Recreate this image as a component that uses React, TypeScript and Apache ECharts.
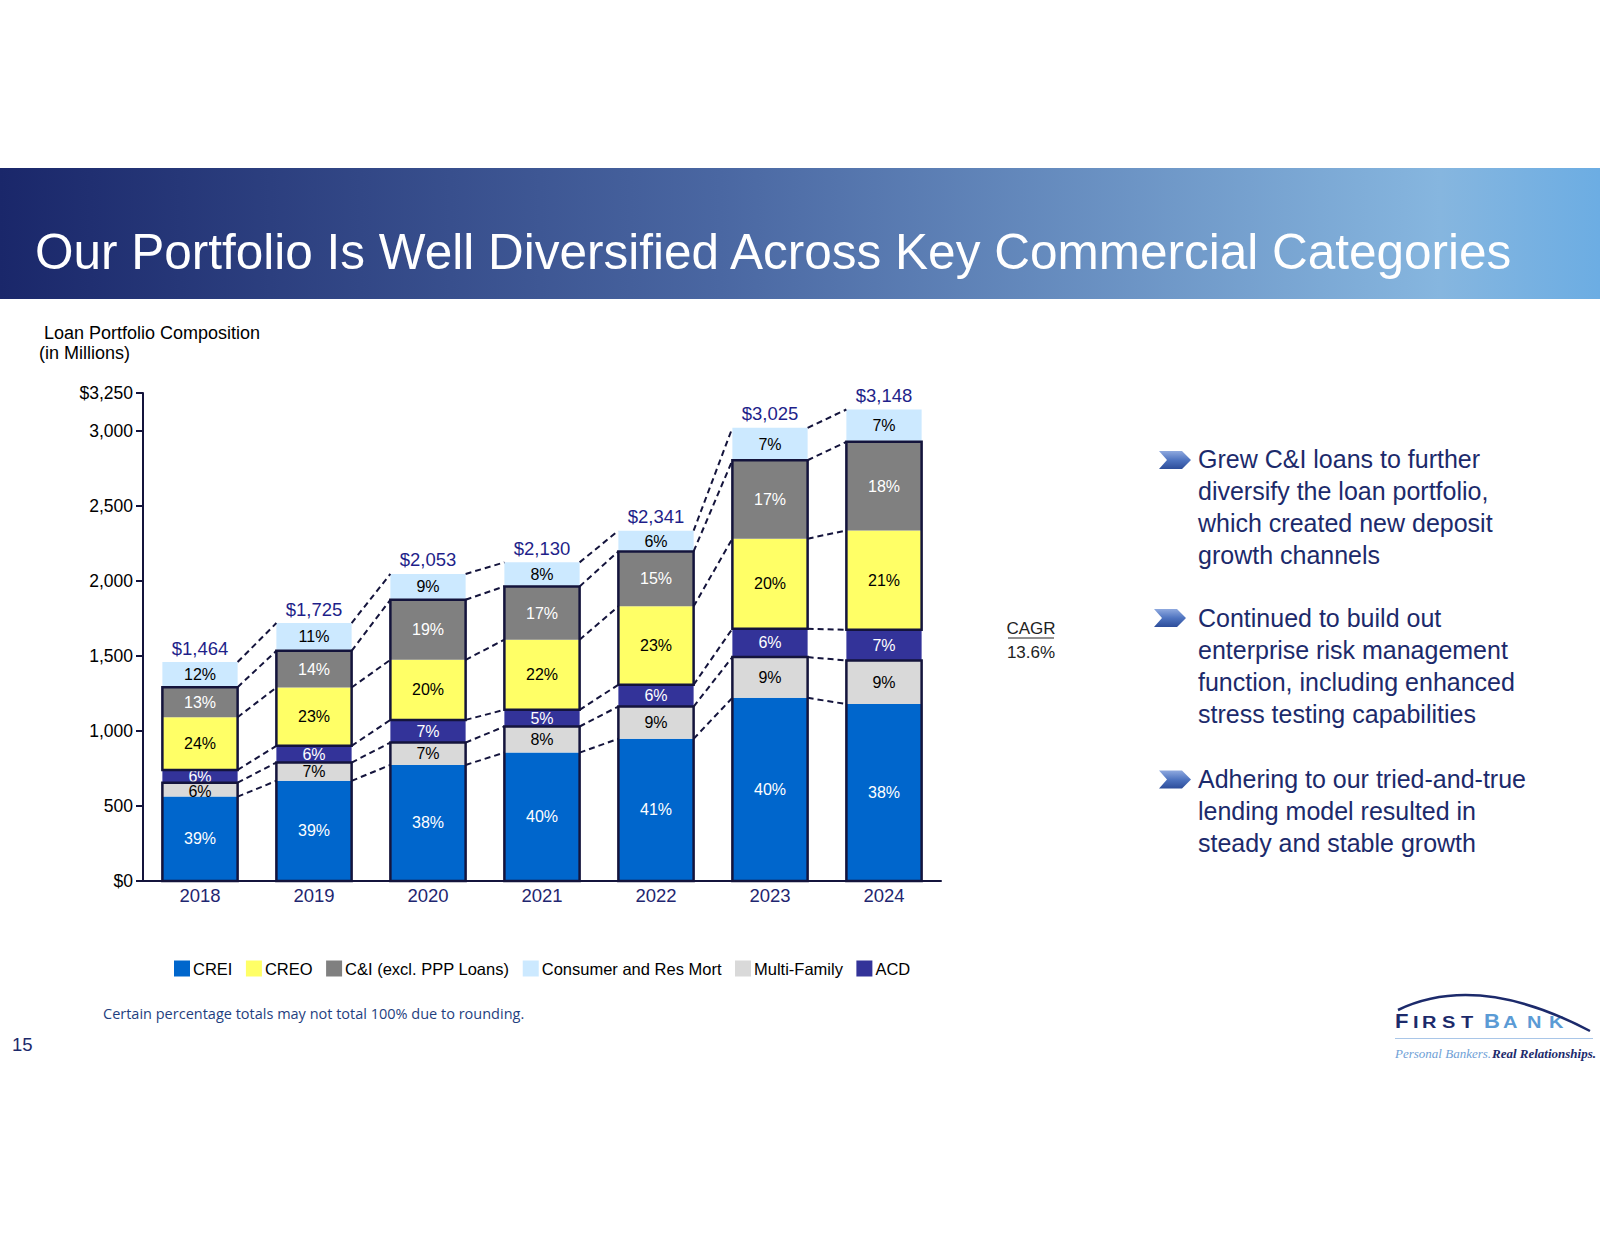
import React, { useEffect, useRef } from "react";
import * as echarts from "echarts";

// ---------- data ----------
const years = ["2018", "2019", "2020", "2021", "2022", "2023", "2024"];
const totals = [1464, 1725, 2053, 2130, 2341, 3025, 3148];

// segment values ($M)
const creiVals = [562, 667, 773, 855, 947, 1220, 1178];
const mfVals = [93, 122, 149, 174, 215, 271, 291];
const acdVals = [85, 111, 151, 111, 145, 189, 204];
const creoVals = [351, 389, 400, 467, 522, 600, 662];
const ciVals = [200, 244, 400, 355, 366, 522, 590];
const consVals = [167, 185, 172, 160, 138, 216, 215];

// printed percentages
const creiPct = [39, 39, 38, 40, 41, 40, 38];
const mfPct = [6, 7, 7, 8, 9, 9, 9];
const acdPct = [6, 6, 7, 5, 6, 6, 7];
const creoPct = [24, 23, 20, 22, 23, 20, 21];
const ciPct = [13, 14, 19, 17, 15, 17, 18];
const consPct = [12, 11, 9, 8, 6, 7, 7];

const yMax = 3250;
const yInterval = 500;

const legendOrder = ["CREI", "CREO", "C&I (excl. PPP Loans)", "Consumer and Res Mort", "Multi-Family", "ACD"];

const bullets = [
  "Grew C&I loans to further\ndiversify the loan portfolio,\nwhich created new deposit\ngrowth channels",
  "Continued to build out\nenterprise risk management\nfunction, including enhanced\nstress testing capabilities",
  "Adhering to our tried-and-true\nlending model resulted in\nsteady and stable growth",
];

const NAVY = "#14143c";
const FONT = "Liberation Sans, Arial, sans-serif";

export default function App() {
  const ref = useRef<HTMLDivElement>(null);

  useEffect(() => {
    const chart = echarts.init(ref.current!, null, { renderer: "svg" });

    const stackOrder = [creiVals, mfVals, acdVals, creoVals, ciVals, consVals];
    const cum: number[][] = [];
    let run = years.map(() => 0);
    stackOrder.forEach((arr) => {
      run = run.map((v, i) => v + arr[i]);
      cum.push(run.slice());
    });

    const BW = 0.66;

    const outlineData: number[][] = [];
    years.forEach((_, i) => {
      outlineData.push([i, 0, cum[1][i]]);
      outlineData.push([i, cum[2][i], cum[4][i]]);
    });

    const connData: number[][] = [];
    for (let i = 0; i < years.length - 1; i++) {
      for (let k = 0; k < cum.length; k++) {
        connData.push([i, cum[k][i], cum[k][i + 1]]);
      }
    }

    const totalData = years.map((_, i) => [i, cum[5][i], totals[i]]);

    const mkBar = (
      name: string,
      vals: number[],
      pct: number[],
      color: string,
      labelColor: string,
      z: number,
      nudge: Record<number, number> = {}
    ) => ({
      type: "bar",
      name,
      stack: "loans",
      data: vals.map((v, i) =>
        nudge[i] !== undefined ? { value: v, label: { offset: [0, nudge[i]] } } : v
      ),
      barWidth: "66%",
      itemStyle: { color },
      label: {
        show: true,
        position: "inside",
        color: labelColor,
        fontSize: 16,
        fontFamily: FONT,
        formatter: (p: any) => pct[p.dataIndex] + "%",
      },
      z,
    });

    const chevron = (x: number, yc: number) => ({
      type: "polygon",
      shape: {
        points: [
          [x, yc - 9],
          [x + 23, yc - 9],
          [x + 32, yc],
          [x + 23, yc + 9],
          [x, yc + 9],
          [x + 8, yc],
        ],
      },
      style: {
        fill: new echarts.graphic.LinearGradient(0, 0, 0, 1, [
          { offset: 0, color: "#8fa9df" },
          { offset: 0.5, color: "#4f74c0" },
          { offset: 1, color: "#2d4d9a" },
        ]),
      },
    });

    const bulletText = (x: number, top: number, text: string) => ({
      type: "text",
      x,
      y: top,
      style: {
        text,
        font: `25px ${FONT}`,
        fill: "#1c2a6b",
        lineHeight: 32,
        verticalAlign: "top",
        align: "left",
      },
    });

    const logoLetters = [
      { ch: "F", x: 1395, big: true, c: "#1c2a6b" },
      { ch: "I", x: 1413, big: false, c: "#1c2a6b" },
      { ch: "R", x: 1422, big: false, c: "#1c2a6b" },
      { ch: "S", x: 1442, big: false, c: "#1c2a6b" },
      { ch: "T", x: 1461, big: false, c: "#1c2a6b" },
      { ch: "B", x: 1484, big: true, c: "#5b9bd5" },
      { ch: "A", x: 1503, big: false, c: "#5b9bd5" },
      { ch: "N", x: 1527, big: false, c: "#5b9bd5" },
      { ch: "K", x: 1549, big: false, c: "#5b9bd5" },
    ];

    const option: any = {
      animation: false,
      backgroundColor: "#ffffff",
      grid: { left: 143, top: 393, width: 798, height: 488, containLabel: false },
      xAxis: {
        type: "category",
        data: years,
        axisLine: { show: true, lineStyle: { color: NAVY, width: 2 } },
        axisTick: { show: false },
        axisLabel: { color: "#1f2670", fontSize: 18.5, fontFamily: FONT, margin: 5 },
      },
      yAxis: {
        type: "value",
        min: 0,
        max: yMax,
        interval: yInterval,
        axisLine: { show: true, lineStyle: { color: NAVY, width: 2 } },
        axisTick: { show: true, length: 7, lineStyle: { color: NAVY, width: 2 } },
        splitLine: { show: false },
        axisLabel: {
          color: "#000",
          fontSize: 17.5,
          fontFamily: FONT,
          margin: 10,
          showMaxLabel: true,
          showMinLabel: true,
          formatter: (v: number) =>
            v === 0 || v === yMax ? "$" + v.toLocaleString("en-US") : v.toLocaleString("en-US"),
        },
      },
      legend: {
        data: legendOrder,
        left: 169,
        top: 955,
        icon: "rect",
        itemWidth: 16,
        itemHeight: 16,
        itemGap: 13.5,
        textStyle: { color: "#000", fontSize: 16.5, fontFamily: FONT, padding: [0, 0, 0, -2] },
      },
      series: [
        mkBar("CREI", creiVals, creiPct, "#0066cc", "#ffffff", 2),
        mkBar("Multi-Family", mfVals, mfPct, "#d9d9d9", "#000000", 2, { 0: 2 }),
        mkBar("ACD", acdVals, acdPct, "#333399", "#ffffff", 3),
        mkBar("CREO", creoVals, creoPct, "#ffff66", "#000000", 2),
        mkBar("C&I (excl. PPP Loans)", ciVals, ciPct, "#808080", "#ffffff", 2),
        mkBar("Consumer and Res Mort", consVals, consPct, "#cce9ff", "#000000", 2),
        {
          type: "custom",
          name: "outline",
          data: outlineData,
          encode: { x: 0, y: [1, 2] },
          z: 5,
          renderItem: (params: any, api: any) => {
            const i = api.value(0);
            const p0 = api.coord([i, api.value(1)]);
            const p1 = api.coord([i, api.value(2)]);
            const bw = api.size([1, 0])[0] * BW;
            return {
              type: "rect",
              shape: { x: p0[0] - bw / 2, y: p1[1], width: bw, height: p0[1] - p1[1] },
              style: { fill: "none", stroke: NAVY, lineWidth: 2.5 },
            };
          },
        },
        {
          type: "custom",
          name: "connectors",
          data: connData,
          encode: { x: 0, y: [1, 2] },
          z: 5,
          renderItem: (params: any, api: any) => {
            const i = api.value(0);
            const bw = api.size([1, 0])[0] * BW;
            const a = api.coord([i, api.value(1)]);
            const b = api.coord([i + 1, api.value(2)]);
            return {
              type: "line",
              shape: { x1: a[0] + bw / 2, y1: a[1], x2: b[0] - bw / 2, y2: b[1] },
              style: { stroke: NAVY, lineWidth: 2, lineDash: [6, 4] },
            };
          },
        },
        {
          type: "custom",
          name: "totals",
          data: totalData,
          encode: { x: 0, y: 1 },
          z: 6,
          renderItem: (params: any, api: any) => {
            const i = api.value(0);
            const p = api.coord([i, api.value(1)]);
            return {
              type: "text",
              x: p[0],
              y: p[1] - 14,
              style: {
                text: "$" + Number(api.value(2)).toLocaleString("en-US"),
                font: `18.5px ${FONT}`,
                fill: "#1f1f8a",
                align: "center",
                verticalAlign: "middle",
              },
            };
          },
        },
      ],
      graphic: [
        {
          type: "rect",
          shape: { x: 0, y: 168, width: 1600, height: 131 },
          style: {
            fill: new echarts.graphic.LinearGradient(0, 0, 1, 0, [
              { offset: 0, color: "#1a276a" },
              { offset: 0.45, color: "#4a67a2" },
              { offset: 0.9, color: "#86b6df" },
              { offset: 1, color: "#6cade3" },
            ]),
          },
        },
        {
          type: "text",
          x: 35,
          y: 251,
          style: {
            text: "Our Portfolio Is Well Diversified Across Key Commercial Categories",
            font: `49.5px ${FONT}`,
            fill: "#ffffff",
            verticalAlign: "middle",
          },
        },
        {
          type: "text",
          x: 44,
          y: 333,
          style: { text: "Loan Portfolio Composition", font: `18px ${FONT}`, fill: "#000", verticalAlign: "middle" },
        },
        {
          type: "text",
          x: 39,
          y: 353,
          style: { text: "(in Millions)", font: `18px ${FONT}`, fill: "#000", verticalAlign: "middle" },
        },
        {
          type: "text",
          x: 1031,
          y: 628,
          style: { text: "CAGR", font: `17px ${FONT}`, fill: "#222", align: "center", verticalAlign: "middle" },
        },
        { type: "line", shape: { x1: 1008, y1: 638, x2: 1054, y2: 638 }, style: { stroke: "#222", lineWidth: 1 } },
        {
          type: "text",
          x: 1031,
          y: 652,
          style: { text: "13.6%", font: `17px ${FONT}`, fill: "#222", align: "center", verticalAlign: "middle" },
        },
        chevron(1159, 460),
        chevron(1154, 618),
        chevron(1159, 779.5),
        bulletText(1198, 442.5, bullets[0]),
        bulletText(1198, 602, bullets[1]),
        bulletText(1198, 762.5, bullets[2]),
        {
          type: "text",
          x: 103,
          y: 1013,
          style: {
            text: "Certain percentage totals may not total 100% due to rounding.",
            font: `14.5px Open Sans, sans-serif`,
            fill: "#1f3f80",
            verticalAlign: "middle",
          },
        },
        {
          type: "text",
          x: 12,
          y: 1044,
          style: { text: "15", font: `18.5px ${FONT}`, fill: "#1c2a6b", verticalAlign: "middle" },
        },
        // logo
        ...logoLetters.map((l) => {
          const fs = l.big ? 21 : 16;
          return {
            type: "text",
            x: l.x,
            y: 1027 + fs * 0.21,
            scaleX: l.big ? 1.05 : 1.25,
            style: {
              text: l.ch,
              font: `bold ${fs}px ${FONT}`,
              fill: l.c,
              verticalAlign: "bottom",
            },
          };
        }),
        {
          type: "bezierCurve",
          shape: { x1: 1398, y1: 1010, x2: 1590, y2: 1031, cpx1: 1478, cpy1: 972 },
          style: { stroke: "#1c2a6b", lineWidth: 2.5, fill: "none" },
        },
        { type: "line", shape: { x1: 1395, y1: 1038.5, x2: 1593, y2: 1038.5 }, style: { stroke: "#a9c6e8", lineWidth: 1 } },
        {
          type: "text",
          x: 1395,
          y: 1053,
          style: {
            text: "Personal Bankers.",
            font: `italic 13px Liberation Serif, serif`,
            fill: "#6f9fd6",
            verticalAlign: "middle",
          },
        },
        {
          type: "text",
          x: 1492,
          y: 1053,
          style: {
            text: "Real Relationships.",
            font: `italic bold 13px Liberation Serif, serif`,
            fill: "#1c2a6b",
            verticalAlign: "middle",
          },
        },
      ],
    };

    chart.setOption(option);
    return () => chart.dispose();
  }, []);

  return (
    <div
      ref={ref}
      style={{ position: "absolute", left: 0, top: 0, width: 1600, height: 1236, background: "#fff" }}
    />
  );
}
